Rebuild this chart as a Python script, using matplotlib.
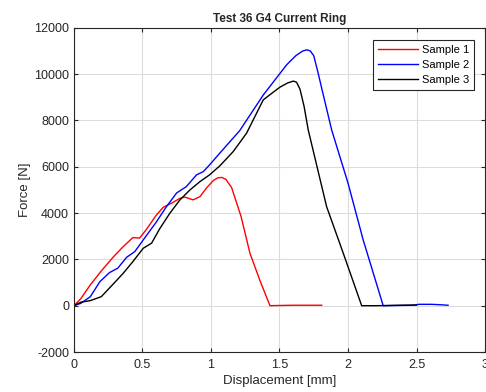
import matplotlib
matplotlib.use("Agg")
import matplotlib.pyplot as plt

plt.rcParams['font.family'] = ['Liberation Sans', 'DejaVu Sans']
plt.rcParams['axes.unicode_minus'] = False

s1_x = [0, 0.05, 0.12, 0.2, 0.29, 0.36, 0.43, 0.48, 0.53, 0.6, 0.652, 0.72, 0.774, 0.81, 0.87, 0.92, 0.97, 1.02, 1.05, 1.08, 1.11, 1.151, 1.22, 1.285, 1.36, 1.431, 1.5, 1.6, 1.7, 1.808]
s1_y = [0, 300, 900, 1500, 2120, 2550, 2940, 2920, 3300, 3900, 4250, 4450, 4640, 4690, 4570, 4710, 5100, 5420, 5520, 5540, 5450, 5100, 3850, 2260, 1050, 0, 10, 20, 20, 20]

s2_x = [0, 0.05, 0.12, 0.19, 0.26, 0.32, 0.385, 0.445, 0.506, 0.6, 0.676, 0.75, 0.82, 0.895, 0.944, 0.99, 1.065, 1.21, 1.382, 1.552, 1.62, 1.67, 1.7, 1.725, 1.75, 1.78, 1.82, 1.881, 2.0, 2.111, 2.257, 2.35, 2.475, 2.52, 2.6, 2.65, 2.73]
s2_y = [0, 100, 390, 1040, 1430, 1620, 2090, 2340, 2840, 3600, 4280, 4870, 5140, 5650, 5790, 6080, 6590, 7560, 9100, 10400, 10800, 11000, 11050, 11000, 10800, 10100, 9100, 7590, 5300, 2840, 0, 10, 20, 60, 60, 50, 20]

s3_x = [0, 0.05, 0.12, 0.2, 0.28, 0.36, 0.43, 0.506, 0.567, 0.628, 0.7, 0.774, 0.847, 0.92, 0.99, 1.065, 1.163, 1.26, 1.382, 1.45, 1.504, 1.56, 1.601, 1.625, 1.65, 1.68, 1.71, 1.844, 1.966, 2.1, 2.2, 2.3, 2.4, 2.5]
s3_y = [0, 150, 220, 390, 890, 1400, 1900, 2480, 2700, 3340, 3990, 4570, 5000, 5360, 5650, 6040, 6660, 7450, 8890, 9200, 9440, 9620, 9700, 9650, 9350, 8600, 7590, 4280, 2260, 0, 0, 10, 20, 30]

labels = ['Sample 1', 'Sample 2', 'Sample 3']
colors = ['#ff0000', '#0000ff', '#000000']

fig = plt.figure(figsize=(4.86, 3.92), dpi=100)
ax = fig.add_axes([0.152, 0.102, 0.846, 0.827])

for x, y, lab, c in zip([s1_x, s2_x, s3_x], [s1_y, s2_y, s3_y], labels, colors):
    ax.plot(x, y, color=c, lw=1.0, label=lab)

ax.set_xlim(0, 3)
ax.set_ylim(-2000, 12000)
ax.set_xticks([0, 0.5, 1, 1.5, 2, 2.5, 3])
ax.set_xticklabels(['0', '0.5', '1', '1.5', '2', '2.5', '3'])
ax.set_yticks(range(-2000, 12001, 2000))
ax.grid(True, color='#dcdcdc', lw=0.8)
ax.set_axisbelow(True)
ax.tick_params(direction='in', top=True, right=True, labelsize=9, colors='#262626', length=3)
ax.tick_params(axis='x', pad=5)
for sp in ax.spines.values():
    sp.set_color('#262626')
    sp.set_linewidth(0.8)

ax.set_title('Test 36 G4 Current Ring', fontsize=8.5, fontweight='bold', color='#262626', pad=4)
ax.set_xlabel('Displacement [mm]', fontsize=9.5, color='#262626', labelpad=3)
ax.set_ylabel('Force [N]', fontsize=9.5, color='#262626', labelpad=2)

leg = ax.legend(loc='upper right', fontsize=8, fancybox=False, edgecolor='#262626',
                framealpha=1, borderpad=0.45, labelspacing=0.45, handlelength=3.6,
                handletextpad=0.3, borderaxespad=0, bbox_to_anchor=(0.973, 0.963))
leg.get_frame().set_linewidth(0.8)

fig.savefig('out.png', dpi=100)
